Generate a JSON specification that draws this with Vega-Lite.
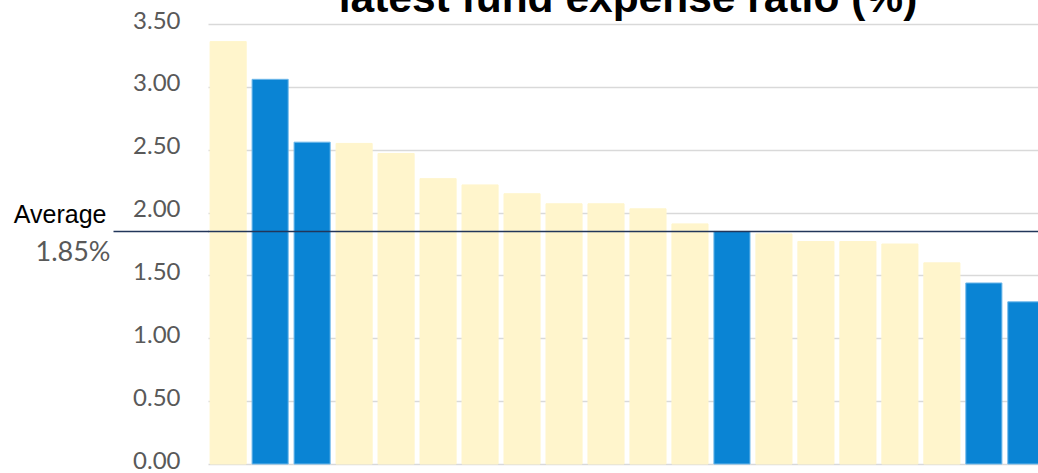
{
  "$schema": "https://vega.github.io/schema/vega-lite/v6.json",
  "width": 830,
  "height": 440,
  "autosize": {"type": "none"},
  "padding": {"left": 208, "top": 24, "right": 0, "bottom": 9},
  "background": "white",
  "title": {
    "text": "latest fund expense ratio (%)",
    "font": "Liberation Sans",
    "fontSize": 42.5,
    "fontWeight": "bold",
    "color": "#000000",
    "anchor": "middle",
    "frame": "group",
    "baseline": "bottom",
    "offset": 4,
    "dx": 5,
    "dy": 58
  },
  "config": {"view": {"stroke": null}},
  "layer": [
    {
      "data": {
        "values": [
          {"fund": "Fund 1", "ratio": 3.36, "type": "other"},
          {"fund": "Fund 2", "ratio": 3.06, "type": "highlight"},
          {"fund": "Fund 3", "ratio": 2.56, "type": "highlight"},
          {"fund": "Fund 4", "ratio": 2.55, "type": "other"},
          {"fund": "Fund 5", "ratio": 2.47, "type": "other"},
          {"fund": "Fund 6", "ratio": 2.27, "type": "other"},
          {"fund": "Fund 7", "ratio": 2.22, "type": "other"},
          {"fund": "Fund 8", "ratio": 2.15, "type": "other"},
          {"fund": "Fund 9", "ratio": 2.07, "type": "other"},
          {"fund": "Fund 10", "ratio": 2.07, "type": "other"},
          {"fund": "Fund 11", "ratio": 2.03, "type": "other"},
          {"fund": "Fund 12", "ratio": 1.91, "type": "other"},
          {"fund": "Fund 13", "ratio": 1.85, "type": "highlight"},
          {"fund": "Fund 14", "ratio": 1.83, "type": "other"},
          {"fund": "Fund 15", "ratio": 1.77, "type": "other"},
          {"fund": "Fund 16", "ratio": 1.77, "type": "other"},
          {"fund": "Fund 17", "ratio": 1.75, "type": "other"},
          {"fund": "Fund 18", "ratio": 1.60, "type": "other"},
          {"fund": "Fund 19", "ratio": 1.44, "type": "highlight"},
          {"fund": "Fund 20", "ratio": 1.29, "type": "highlight"}
        ]
      },
      "mark": {"type": "bar", "strokeWidth": 1},
      "encoding": {
        "x": {
          "field": "fund",
          "type": "nominal",
          "sort": null,
          "scale": {"range": [0, 838], "paddingInner": 0.14, "paddingOuter": 0.05},
          "axis": null
        },
        "y": {
          "field": "ratio",
          "type": "quantitative",
          "scale": {"domain": [0, 3.5], "nice": false},
          "axis": {
            "values": [0, 0.5, 1, 1.5, 2, 2.5, 3, 3.5],
            "format": ".2f",
            "labelFont": "Lato",
            "labelFontSize": 24,
            "labelColor": "#595959",
            "labelPadding": 28,
            "labelOffset": -3,
            "ticks": false,
            "domain": false,
            "gridColor": "#d9d9d9",
            "gridWidth": 1.5,
            "title": null
          }
        },
        "color": {
          "field": "type",
          "type": "nominal",
          "scale": {"domain": ["other", "highlight"], "range": ["#FFF5CC", "#0A84D4"]},
          "legend": null
        },
        "stroke": {
          "field": "type",
          "type": "nominal",
          "scale": {"domain": ["other", "highlight"], "range": ["#FFF5CC", "#6FB8EA"]},
          "legend": null
        }
      }
    },
    {
      "data": {"values": [{"avg": 1.85}]},
      "mark": {"type": "rule", "color": "#22365a", "strokeWidth": 1.5},
      "encoding": {
        "y": {
          "field": "avg",
          "type": "quantitative",
          "scale": {"domain": [0, 3.5], "nice": false},
          "axis": {
            "orient": "left",
            "values": [1.85],
            "labelExpr": "'1.85%'",
            "labelFont": "Lato",
            "labelFontSize": 27,
            "labelColor": "#595959",
            "labelPadding": 3,
            "labelOffset": 21,
            "tickSize": 95,
            "tickColor": "#22365a",
            "tickWidth": 1.5,
            "domain": false,
            "grid": false,
            "title": "Average",
            "titleAngle": 0,
            "titleAlign": "right",
            "titleBaseline": "alphabetic",
            "titleX": -102,
            "titleY": 198,
            "titleFont": "Liberation Sans",
            "titleFontSize": 25,
            "titleFontWeight": "normal",
            "titleColor": "#000000"
          }
        }
      }
    }
  ],
  "resolve": {"axis": {"y": "independent"}}
}
